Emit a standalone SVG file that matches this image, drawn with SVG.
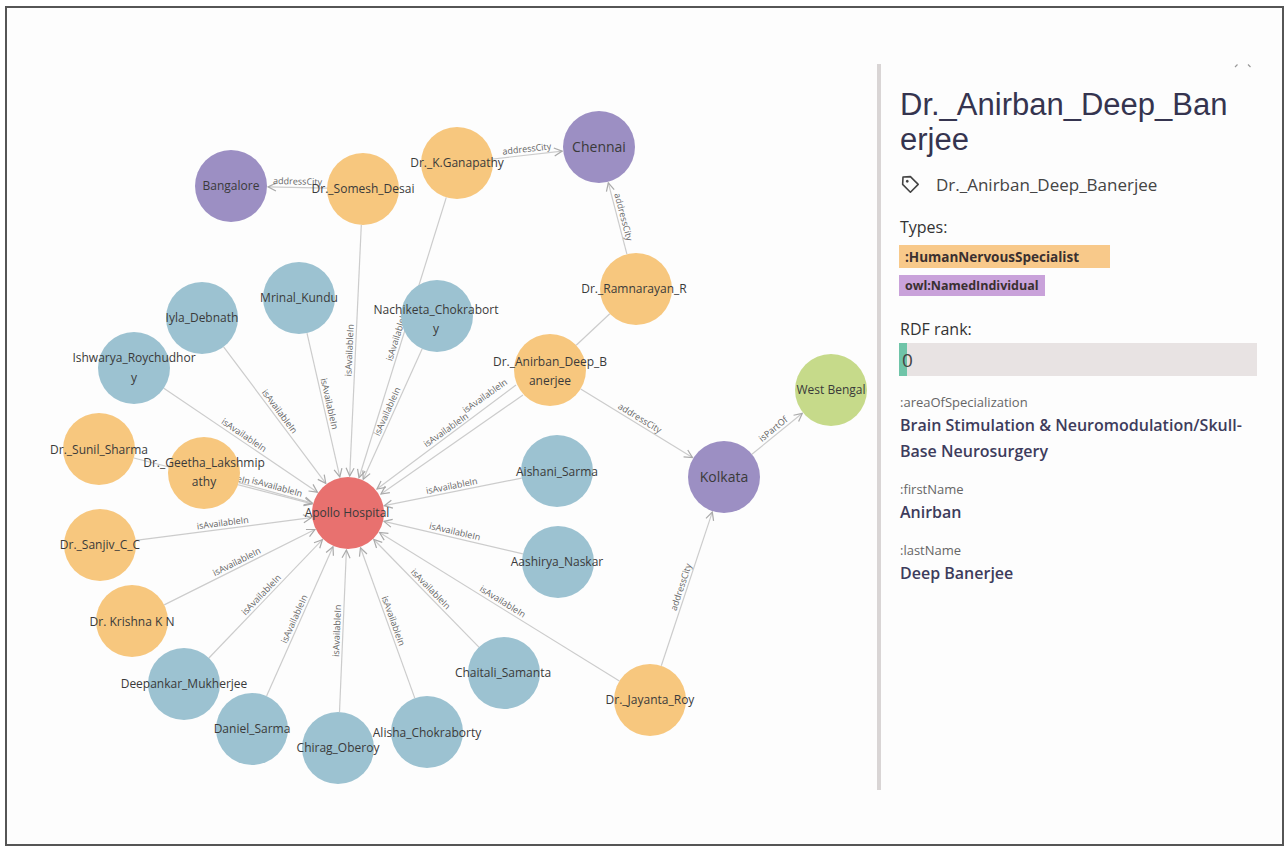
<svg xmlns="http://www.w3.org/2000/svg" width="1285" height="846" viewBox="0 0 1285 846">
<defs>
<marker id="arr" markerUnits="userSpaceOnUse" markerWidth="10" markerHeight="10" viewBox="0 0 10 10" refX="9" refY="5" orient="auto">
<path d="M1,1 L9,5 L1,9" fill="none" stroke="#aaaaaa" stroke-width="1.2"/>
</marker>
<style>
.e{stroke:#cccccc;stroke-width:1.2;fill:none}
.ea{stroke:#cccccc;stroke-width:1.2;fill:none;marker-end:url(#arr)}
.el{font-family:"Open Sans","Liberation Sans",sans-serif;font-size:9px;fill:#666666;text-anchor:middle}
.nl{font-family:"Open Sans","Liberation Sans",sans-serif;font-size:12px;fill:#3a3a3a;text-anchor:middle}
.nb{font-family:"Open Sans","Liberation Sans",sans-serif;font-size:14px;fill:#3a3a3a;text-anchor:middle}
.or{fill:#f7c77e}
.bl{fill:#9cc2d1}
.pu{fill:#9c8fc3}
.rd{fill:#e8716f}
.gr{fill:#c6da8a}
.pt{font-family:"Liberation Sans","Open Sans",sans-serif;fill:#35344f}
.pk{font-family:"Open Sans","Liberation Sans",sans-serif;font-size:13px;fill:#666666}
.pv{font-family:"Open Sans","Liberation Sans",sans-serif;font-size:16px;font-weight:600;fill:#3d3c5c}
</style>
</defs>
<rect x="0" y="0" width="1285" height="846" fill="#ffffff"/>
<rect x="6" y="7" width="1277" height="838" fill="#fdfdfd" stroke="#555555" stroke-width="2"/>

<g id="connectors">
<line class="ea" x1="327" y1="188.2" x2="268" y2="186.9"/>
<line class="ea" x1="492.8" y1="159" x2="562.2" y2="151.1"/>
<line class="ea" x1="626.9" y1="254.2" x2="608.3" y2="182.8"/>
<line class="e" x1="576.2" y1="345.3" x2="609.8" y2="313.7"/>
<line class="ea" x1="580.7" y1="388.9" x2="692.5" y2="457.6"/>
<line class="ea" x1="751.9" y1="454.3" x2="802.3" y2="413.3"/>
<line class="ea" x1="661.3" y1="665.8" x2="712.3" y2="512.1"/>
<line class="ea" x1="619.4" y1="681.1" x2="379.5" y2="532.5"/>
<line class="ea" x1="516" y1="385" x2="377" y2="489"/>
<line class="ea" x1="523" y1="395" x2="381" y2="494"/>
<line class="ea" x1="361.3" y1="225" x2="349.7" y2="476"/>
<line class="ea" x1="446.3" y1="197.4" x2="359" y2="477.7"/>
<line class="ea" x1="422.2" y1="348.8" x2="363.2" y2="479.3"/>
<line class="ea" x1="307" y1="333.1" x2="339.8" y2="476.9"/>
<line class="ea" x1="223.6" y1="346.8" x2="325.8" y2="483.4"/>
<line class="ea" x1="163.8" y1="388.2" x2="317.4" y2="492.2"/>
<line class="ea" x1="133.9" y1="458" x2="312.2" y2="503.8"/>
<line class="ea" x1="238.7" y1="482.6" x2="312.4" y2="503.1"/>
<line class="ea" x1="135.7" y1="540.4" x2="311.3" y2="517.7"/>
<line class="ea" x1="164.2" y1="604.9" x2="314.9" y2="529.5"/>
<line class="ea" x1="208.9" y1="658" x2="322.4" y2="539.7"/>
<line class="ea" x1="266.6" y1="696.1" x2="333" y2="546.8"/>
<line class="ea" x1="339.5" y1="712" x2="346.4" y2="550"/>
<line class="ea" x1="414.8" y1="698.1" x2="360.5" y2="547.8"/>
<line class="ea" x1="478.9" y1="647.2" x2="373.8" y2="539.5"/>
<line class="ea" x1="522.9" y1="553.8" x2="384" y2="521.4"/>
<line class="ea" x1="521.7" y1="478.1" x2="384.3" y2="505.7"/>

<text class="el" transform="translate(297.5,187.5) rotate(1.3)" y="-3">addressCity</text>
<text class="el" transform="translate(527.5,155) rotate(-6.4)" y="-3">addressCity</text>
<text class="el" transform="translate(617.6,218.5) rotate(75.4)" y="-3">addressCity</text>
<text class="el" transform="translate(636.6,423.3) rotate(31.6)" y="-3">addressCity</text>
<text class="el" transform="translate(777.1,433.8) rotate(-39.1)" y="-3">isPartOf</text>
<text class="el" transform="translate(686.8,589) rotate(-71.6)" y="-3">addressCity</text>
<text class="el" transform="translate(499.5,606.8) rotate(31.8)" y="-3">isAvailableIn</text>
<text class="el" transform="translate(488.5,401) rotate(-35.3)" y="-3">isAvailableIn</text>
<text class="el" transform="translate(449.5,435) rotate(-35.3)" y="-3">isAvailableIn</text>
<text class="el" transform="translate(355.5,350.5) rotate(-87.4)" y="-3">isAvailableIn</text>
<text class="el" transform="translate(402.7,337.6) rotate(-72.7)" y="-3">isAvailableIn</text>
<text class="el" transform="translate(392.7,414) rotate(-65.7)" y="-3">isAvailableIn</text>
<text class="el" transform="translate(323.4,405) rotate(77.2)" y="-3">isAvailableIn</text>
<text class="el" transform="translate(274.7,415.1) rotate(53.2)" y="-3">isAvailableIn</text>
<text class="el" transform="translate(240.6,440.2) rotate(34.1)" y="-3">isAvailableIn</text>
<text class="el" transform="translate(223,480.9) rotate(14.4)" y="-3">isAvailableIn</text>
<text class="el" transform="translate(275.5,492.9) rotate(15.5)" y="-3">isAvailableIn</text>
<text class="el" transform="translate(223.5,529) rotate(-7.4)" y="-3">isAvailableIn</text>
<text class="el" transform="translate(239.5,567.2) rotate(-26.6)" y="-3">isAvailableIn</text>
<text class="el" transform="translate(265.7,598.9) rotate(-46.2)" y="-3">isAvailableIn</text>
<text class="el" transform="translate(299.8,621.5) rotate(-66)" y="-3">isAvailableIn</text>
<text class="el" transform="translate(343,631) rotate(-87.6)" y="-3">isAvailableIn</text>
<text class="el" transform="translate(387.6,623) rotate(70.2)" y="-3">isAvailableIn</text>
<text class="el" transform="translate(426.3,593.3) rotate(45.7)" y="-3">isAvailableIn</text>
<text class="el" transform="translate(453.5,537.6) rotate(13.1)" y="-3">isAvailableIn</text>
<text class="el" transform="translate(453,491.9) rotate(-11.4)" y="-3">isAvailableIn</text>
</g>

<g id="n-bangalore"><circle class="pu" cx="231" cy="186" r="36"/><text class="nl" x="231" y="190">Bangalore</text></g>
<g id="n-somesh"><circle class="or" cx="363" cy="189" r="36"/><text class="nl" x="363" y="193">Dr._Somesh_Desai</text></g>
<g id="n-ganapathy"><circle class="or" cx="457" cy="163" r="36"/><text class="nl" x="457" y="167">Dr._K.Ganapathy</text></g>
<g id="n-chennai"><circle class="pu" cx="599" cy="147" r="36"/><text class="nb" x="599" y="152">Chennai</text></g>
<g id="n-ramnarayan"><circle class="or" cx="636" cy="289" r="36"/><text class="nl" x="634" y="293">Dr._Ramnarayan_R</text></g>
<g id="n-anirban"><circle class="or" cx="550" cy="370" r="36"/><text class="nl"><tspan x="550" y="366">Dr._Anirban_Deep_B</tspan><tspan x="550" y="385">anerjee</tspan></text></g>
<g id="n-nachiketa"><circle class="bl" cx="437" cy="316" r="36"/><text class="nl"><tspan x="436" y="314">Nachiketa_Chokrabort</tspan><tspan x="436" y="333">y</tspan></text></g>
<g id="n-aishani"><circle class="bl" cx="557" cy="471" r="36"/><text class="nl" x="557" y="476">Aishani_Sarma</text></g>
<g id="n-mrinal"><circle class="bl" cx="299" cy="298" r="36"/><text class="nl" x="299" y="302">Mrinal_Kundu</text></g>
<g id="n-iyla"><circle class="bl" cx="202" cy="318" r="36"/><text class="nl" x="202" y="322">Iyla_Debnath</text></g>
<g id="n-ishwarya"><circle class="bl" cx="134" cy="368" r="36"/><text class="nl"><tspan x="134" y="362">Ishwarya_Roychudhor</tspan><tspan x="134" y="382">y</tspan></text></g>
<g id="n-sunil"><circle class="or" cx="99" cy="449" r="36"/><text class="nl" x="99" y="454">Dr._Sunil_Sharma</text></g>
<g id="n-geetha"><circle class="or" cx="204" cy="473" r="36"/><text class="nl"><tspan x="204" y="467">Dr._Geetha_Lakshmip</tspan><tspan x="204" y="486">athy</tspan></text></g>
<g id="n-apollo"><circle class="rd" cx="348" cy="513" r="36"/><text class="nl" x="347" y="517">Apollo Hospital</text></g>
<g id="n-sanjiv"><circle class="or" cx="100" cy="545" r="36"/><text class="nl" x="100" y="549">Dr._Sanjiv_C_C</text></g>
<g id="n-krishna"><circle class="or" cx="132" cy="621" r="36"/><text class="nl" x="132" y="626">Dr. Krishna K N</text></g>
<g id="n-deepankar"><circle class="bl" cx="184" cy="684" r="36"/><text class="nl" x="184" y="688">Deepankar_Mukherjee</text></g>
<g id="n-daniel"><circle class="bl" cx="252" cy="729" r="36"/><text class="nl" x="252" y="733">Daniel_Sarma</text></g>
<g id="n-chirag"><circle class="bl" cx="338" cy="748" r="36"/><text class="nl" x="338" y="752">Chirag_Oberoy</text></g>
<g id="n-alisha"><circle class="bl" cx="427" cy="732" r="36"/><text class="nl" x="427" y="737">Alisha_Chokraborty</text></g>
<g id="n-chaitali"><circle class="bl" cx="504" cy="673" r="36"/><text class="nl" x="503" y="677">Chaitali_Samanta</text></g>
<g id="n-aashirya"><circle class="bl" cx="558" cy="562" r="36"/><text class="nl" x="557" y="566">Aashirya_Naskar</text></g>
<g id="n-jayanta"><circle class="or" cx="650" cy="700" r="36"/><text class="nl" x="650" y="704">Dr._Jayanta_Roy</text></g>
<g id="n-kolkata"><circle class="pu" cx="724" cy="477" r="36"/><text class="nb" x="724" y="482">Kolkata</text></g>
<g id="n-westbengal"><circle class="gr" cx="831" cy="390" r="36"/><text class="nl" x="831" y="394">West Bengal</text></g>

<g id="panel">
<rect x="877" y="64" width="4" height="726" fill="#d9d5d5"/>
<path d="M1235,67 l2.5,-2.5 M1248,64.5 l2.5,2.5" stroke="#999999" stroke-width="1.2" fill="none"/>
<text class="pt" font-size="31"><tspan x="900" y="115">Dr._Anirban_Deep_Ban</tspan><tspan x="900" y="150">erjee</tspan></text>
<g transform="translate(903,177) rotate(45)"><path d="M0,0 L5,-5.5 H16 V5.5 H5 Z" fill="none" stroke="#444444" stroke-width="1.6" stroke-linejoin="round"/><circle cx="6" cy="0" r="1.4" fill="#444444"/></g>
<text x="936" y="191" font-family="Open Sans, Liberation Sans, sans-serif" font-size="17" fill="#444444">Dr._Anirban_Deep_Banerjee</text>
<text x="900" y="233" font-family="Open Sans, Liberation Sans, sans-serif" font-size="16" fill="#333333">Types:</text>
<rect x="899" y="245" width="211" height="23" fill="#f8c98a"/>
<text x="905" y="262" font-family="Open Sans, Liberation Sans, sans-serif" font-size="13.5" font-weight="700" fill="#3a3030">:HumanNervousSpecialist</text>
<rect x="899" y="275" width="146" height="21" fill="#c9a2da"/>
<text x="905" y="290" font-family="Open Sans, Liberation Sans, sans-serif" font-size="12.5" font-weight="700" fill="#3a3030">owl:NamedIndividual</text>
<text x="900" y="335" font-family="Open Sans, Liberation Sans, sans-serif" font-size="16" fill="#333333">RDF rank:</text>
<rect x="899" y="343" width="358" height="33" fill="#e8e3e3"/>
<rect x="899" y="343" width="8" height="33" fill="#6fc4a8"/>
<text x="902" y="367" font-family="Open Sans, Liberation Sans, sans-serif" font-size="19" fill="#444444">0</text>
<text class="pk" x="900" y="407">:areaOfSpecialization</text>
<text class="pv" x="900" y="431">Brain Stimulation &amp; Neuromodulation/Skull-</text>
<text class="pv" x="900" y="457">Base Neurosurgery</text>
<text class="pk" x="900" y="494">:firstName</text>
<text class="pv" x="900" y="518">Anirban</text>
<text class="pk" x="900" y="555">:lastName</text>
<text class="pv" x="900" y="579">Deep Banerjee</text>
</g>
</svg>
